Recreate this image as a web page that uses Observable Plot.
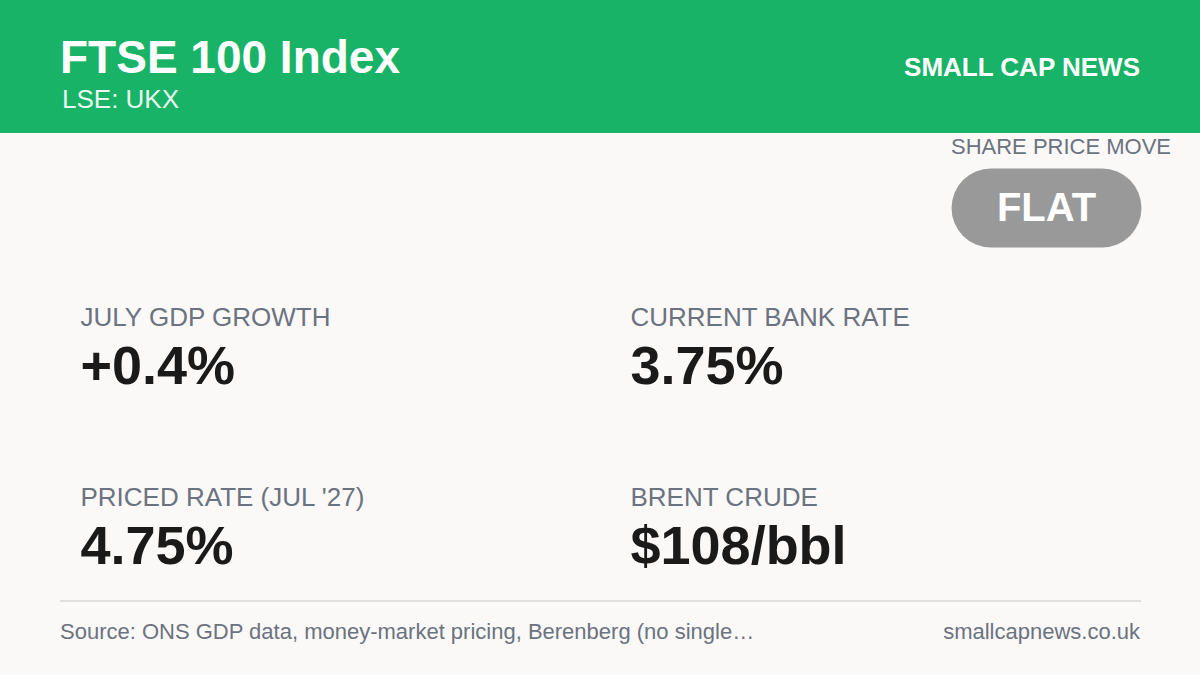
<!DOCTYPE html>
<html>
<head>
<meta charset="utf-8">
<script src="https://cdn.jsdelivr.net/npm/d3@7"></script>
<script src="https://cdn.jsdelivr.net/npm/@observablehq/plot@0.6"></script>
<style>
  html, body { margin: 0; padding: 0; background: #faf9f7; }
  #card { position: relative; width: 1200px; height: 675px; overflow: hidden; background: #faf9f7;
          font-family: "Liberation Sans", Arial, Helvetica, sans-serif; }
  .abs { position: absolute; line-height: 1; white-space: nowrap; }
  #header { position: absolute; left: 0; top: 0; width: 1200px; height: 133px; background: #18b366; }
  #title { left: 60px; top: 34px; font-size: 46px; font-weight: bold; color: #ffffff; }
  #subtitle { left: 62px; top: 86px; font-size: 26px; color: rgba(255,255,255,0.92); }
  #brand { right: 60px; top: 54px; font-size: 26px; font-weight: bold; color: #ffffff; }
  #moveLabel { left: 951px; top: 136px; font-size: 22px; color: #6b7280; }
  #badge { position: absolute; left: 951px; top: 168px; }
  #tiles { position: absolute; left: 0; top: 260px; }
  #rule { position: absolute; left: 60px; top: 600px; width: 1081px; height: 2px; background: #e0dfdc; }
  #source { left: 60px; top: 621px; font-size: 22px; color: #6b7280; }
  #site { right: 60px; top: 621px; font-size: 22px; color: #6b7280; }
</style>
</head>
<body>
<div id="card">
  <div id="header"></div>
  <div class="abs" id="title"></div>
  <div class="abs" id="subtitle"></div>
  <div class="abs" id="brand"></div>
  <div class="abs" id="moveLabel"></div>
  <div id="badge"></div>
  <div id="tiles"></div>
  <div id="rule"></div>
  <div class="abs" id="source"></div>
  <div class="abs" id="site"></div>
</div>
<script>
// ---- data ----
const titleText = "FTSE 100 Index";
const tickerText = "LSE: UKX";
const brandText = "SMALL CAP NEWS";
const moveLabelText = "SHARE PRICE MOVE";
const moveValues = ["FLAT"];
const statLabels = ["JULY GDP GROWTH", "CURRENT BANK RATE", "PRICED RATE (JUL '27)", "BRENT CRUDE"];
const statValues = ["+0.4%", "3.75%", "4.75%", "$108/bbl"];
const statCols = [0, 1, 0, 1];
const statRows = [0, 0, 1, 1];
const sourceText = "Source: ONS GDP data, money-market pricing, Berenberg (no single…";
const siteText = "smallcapnews.co.uk";

document.getElementById("title").textContent = titleText;
document.getElementById("subtitle").textContent = tickerText;
document.getElementById("brand").textContent = brandText;
document.getElementById("moveLabel").textContent = moveLabelText;
document.getElementById("source").textContent = sourceText;
document.getElementById("site").textContent = siteText;

const font = "'Liberation Sans', Arial, Helvetica, sans-serif";

// ---- badge ----
const badge = Plot.plot({
  width: 190,
  height: 79,
  margin: 0,
  style: { fontFamily: font, background: "transparent", overflow: "visible" },
  marks: [
    Plot.frame({ fill: "#999999", stroke: null, rx: 39.5, ry: 39.5 }),
    Plot.text(moveValues, {
      text: d => d,
      frameAnchor: "middle",
      fill: "#ffffff",
      fontSize: 40,
      fontWeight: "bold"
    })
  ]
});
document.getElementById("badge").appendChild(badge);

// ---- stat tiles ----
const stats = statLabels.map((label, i) => ({
  label, value: statValues[i], col: statCols[i], row: statRows[i]
}));

const tiles = Plot.plot({
  width: 1200,
  height: 340,
  margin: 0,
  style: { fontFamily: font, background: "transparent", overflow: "visible" },
  x: { type: "point", domain: [0, 1], range: [80, 630], padding: 0, axis: null },
  y: { type: "point", domain: [0, 1], range: [64.5, 244.5], padding: 0, axis: null },
  marks: [
    Plot.text(stats, {
      x: "col", y: "row", text: "label",
      textAnchor: "start", lineAnchor: "bottom",
      fill: "#6b7280", fontSize: 26
    }),
    Plot.text(stats, {
      x: "col", y: "row", text: "value",
      textAnchor: "start", lineAnchor: "bottom", dy: 58.5,
      fill: "#1a1a1a", fontSize: 54, fontWeight: "bold"
    })
  ]
});
document.getElementById("tiles").appendChild(tiles);
</script>
</body>
</html>
